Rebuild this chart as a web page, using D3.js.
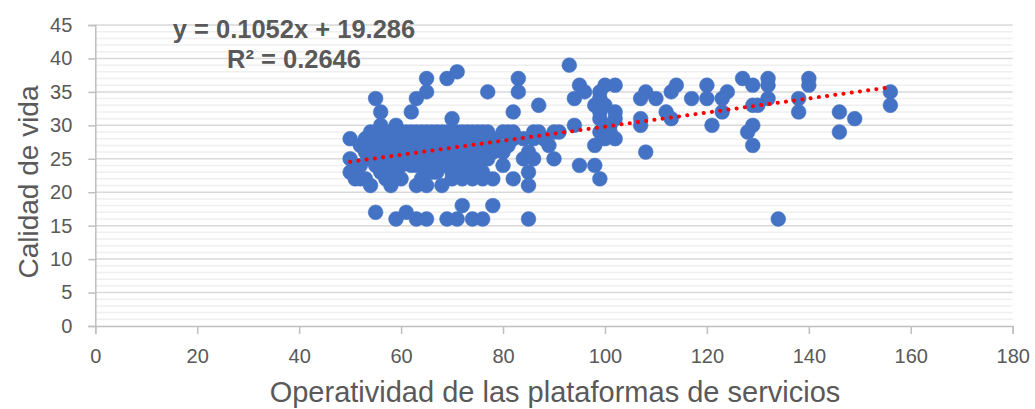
<!DOCTYPE html>
<html>
<head>
<meta charset="utf-8">
<script src="https://cdn.jsdelivr.net/npm/d3@7"></script>
<style>
  body { margin: 0; background: #fff; }
  text { font-family: "Liberation Sans", Arial, sans-serif; fill: #595959; }
</style>
</head>
<body>
<div id="viz"></div>
<script>
// puntos [operatividad, calidad de vida]
const puntos = [
  [93,39],
  [71,38],
  [65,37],[69,37],[83,37],[127,37],[132,37],[140,37],
  [95,36],[100,36],[102,36],[114,36],[120,36],[129,36],[132,36],[140,36],
  [65,35],[77,35],[83,35],[96,35],[99,35],[108,35],[113,35],[124,35],[156,35],
  [55,34],[63,34],[94,34],[99,34],[107,34],[110,34],[117,34],[120,34],[123,34],[132,34],[138,34],
  [87,33],[98,33],[100,33],[129,33],[130,33],[156,33],
  [56,32],[62,32],[82,32],[99,32],[102,32],[112,32],[123,32],[138,32],[146,32],
  [70,31],[99,31],[102,31],[107,31],[113,31],[149,31],
  [56,30],[59,30],[94,30],[100,30],[101,30],[107,30],[121,30],[129,30],
  [54,29],[55,29],[56,29],[57,29],[58,29],[59,29],[60,29],[61,29],[62,29],[63,29],[64,29],[65,29],
  [66,29],[67,29],[68,29],[69,29],[70,29],[71,29],[72,29],[73,29],[74,29],[75,29],[76,29],[77,29],
  [80,29],[81,29],[82,29],[86,29],[87,29],[90,29],[91,29],[99,29],[100,29],[101,29],[128,29],[146,29],
  [50,28],[53,28],[54,28],[55,28],[56,28],[57,28],[58,28],[59,28],[60,28],[61,28],[62,28],[63,28],
  [64,28],[65,28],[66,28],[67,28],[68,28],[69,28],[70,28],[71,28],[72,28],[73,28],[74,28],[75,28],
  [76,28],[78,28],[82,28],[84,28],[86,28],[88,28],[100,28],[102,28],
  [52,27],[53,27],[54,27],[56,27],[57,27],[58,27],[59,27],[60,27],[61,27],[62,27],[63,27],[64,27],
  [65,27],[66,27],[67,27],[68,27],[69,27],[70,27],[71,27],[72,27],[73,27],[74,27],[75,27],[76,27],
  [79,27],[81,27],[89,27],[98,27],[129,27],
  [53,26],[55,26],[56,26],[57,26],[58,26],[60,26],[61,26],[62,26],[63,26],[64,26],[65,26],[66,26],
  [67,26],[68,26],[69,26],[70,26],[71,26],[72,26],[73,26],[74,26],[75,26],[76,26],[78,26],[80,26],
  [85,26],[108,26],
  [50,25],[54,25],[55,25],[57,25],[58,25],[59,25],[61,25],[62,25],[63,25],[64,25],[65,25],[66,25],
  [67,25],[68,25],[69,25],[70,25],[71,25],[72,25],[73,25],[74,25],[76,25],[77,25],[84,25],[86,25],[90,25],
  [52,24],[55,24],[56,24],[57,24],[60,24],[62,24],[63,24],[64,24],[65,24],[66,24],[67,24],[68,24],
  [69,24],[70,24],[71,24],[73,24],[74,24],[75,24],[80,24],[95,24],[98,24],
  [50,23],[51,23],[56,23],[59,23],[65,23],[66,23],[67,23],[70,23],[72,23],[74,23],[76,23],[85,23],
  [51,22],[52,22],[53,22],[57,22],[60,22],[64,22],[70,22],[72,22],[74,22],[76,22],[78,22],[82,22],[99,22],
  [54,21],[58,21],[63,21],[65,21],[68,21],[85,21],
  [72,18],[78,18],
  [55,17],[61,17],
  [59,16],[63,16],[65,16],[69,16],[71,16],[74,16],[76,16],[85,16],[134,16]
];

const xTicks = [0, 20, 40, 60, 80, 100, 120, 140, 160, 180];
const yTicks = [0, 5, 10, 15, 20, 25, 30, 35, 40, 45];
const yMinor = d3.range(0, 46, 1);

// linea de tendencia lineal
const pendiente = 0.1052;
const intercepto = 19.286;
const tendenciaX = [50, 156];

const textoEcuacion = "y = 0.1052x + 19.286";
const textoR2 = "R² = 0.2646";
const tituloX = "Operatividad de las plataformas de servicios";
const tituloY = "Calidad de vida";

let w = 1035;
let h = 409;

const svg = d3.select("#viz")
  .append("svg")
  .attr("width", w)
  .attr("height", h);

const xScale = d3.scaleLinear()
  .domain([0, 180])
  .range([95.3, 1012.7]);

const yScale = d3.scaleLinear()
  .domain([0, 45])
  .range([326, 25]);

let gridGroup = svg.append("g");

// minor gridlines
gridGroup.selectAll("line.minor")
  .data(yMinor.filter(d => d % 5 != 0))
  .enter()
  .append("line")
  .attr("class", "minor")
  .attr("x1", xScale(0))
  .attr("x2", xScale(180))
  .attr("y1", d => yScale(d))
  .attr("y2", d => yScale(d))
  .attr("stroke", "#efefef")
  .attr("stroke-width", 1.5);

// major gridlines
gridGroup.selectAll("line.major")
  .data(yTicks.filter(d => d > 0))
  .enter()
  .append("line")
  .attr("class", "major")
  .attr("x1", xScale(0))
  .attr("x2", xScale(180))
  .attr("y1", d => yScale(d))
  .attr("y2", d => yScale(d))
  .attr("stroke", "#d9d9d9")
  .attr("stroke-width", 1.5);

// x axis
const xAxis = svg.append("g")
  .attr("transform", `translate(0,${yScale(0)})`)
  .call(d3.axisBottom(xScale).tickValues(xTicks).tickSize(8).tickPadding(15));

// y axis
const yAxis = svg.append("g")
  .attr("transform", `translate(${xScale(0)},0)`)
  .call(d3.axisLeft(yScale).tickValues(yTicks).tickSize(7).tickPadding(16));

[xAxis, yAxis].forEach(a => {
  a.select(".domain").attr("stroke", "#bfbfbf").attr("stroke-width", 1.5);
  a.selectAll(".tick line").attr("stroke", "#bfbfbf").attr("stroke-width", 1.5);
  a.selectAll(".tick text")
    .attr("fill", "#595959")
    .style("font-family", "'Liberation Sans', Arial, sans-serif")
    .style("font-size", "20px");
});

// puntos
let pointGroup = svg.append("g");
pointGroup.selectAll("circle")
  .data(puntos)
  .enter()
  .append("circle")
  .attr("cx", d => xScale(d[0]))
  .attr("cy", d => yScale(d[1]))
  .attr("r", 7.4)
  .attr("fill", "#4472c4")
  .attr("stroke", "#4472c4")
  .attr("stroke-width", 0.5);

// tendencia
svg.append("line")
  .attr("x1", xScale(tendenciaX[0]))
  .attr("y1", yScale(pendiente * tendenciaX[0] + intercepto))
  .attr("x2", xScale(tendenciaX[1]))
  .attr("y2", yScale(pendiente * tendenciaX[1] + intercepto))
  .attr("stroke", "#ff0000")
  .attr("stroke-width", 4)
  .attr("stroke-linecap", "round")
  .attr("stroke-dasharray", "0.1 8.2");

// ecuacion
svg.append("text")
  .attr("x", 294)
  .attr("y", 38)
  .attr("text-anchor", "middle")
  .style("font-size", "25.5px")
  .style("font-weight", "bold")
  .text(textoEcuacion);

svg.append("text")
  .attr("x", 294)
  .attr("y", 68)
  .attr("text-anchor", "middle")
  .style("font-size", "25.5px")
  .style("font-weight", "bold")
  .text(textoR2);

// titulos
svg.append("text")
  .attr("x", 555)
  .attr("y", 402)
  .attr("text-anchor", "middle")
  .style("font-size", "29px")
  .text(tituloX);

svg.append("text")
  .attr("transform", "translate(38,182) rotate(-90)")
  .attr("text-anchor", "middle")
  .style("font-size", "28px")
  .text(tituloY);
</script>
</body>
</html>
